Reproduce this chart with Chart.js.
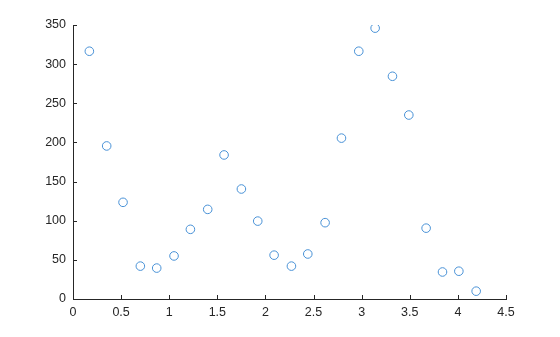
<!DOCTYPE html>
<html>
<head>
<meta charset="utf-8">
<script src="https://cdn.jsdelivr.net/npm/chart.js@4"></script>
<style>
html,body{margin:0;padding:0;background:#fff;}
#wrap{width:560px;height:337px;position:relative;}
</style>
</head>
<body>
<div id="wrap"><canvas id="c" width="560" height="337"></canvas></div>
<script>
const xValues = [0.17, 0.35, 0.52, 0.70, 0.87, 1.05, 1.22, 1.40, 1.57, 1.75, 1.92, 2.09,
                 2.27, 2.44, 2.62, 2.79, 2.97, 3.14, 3.32, 3.49, 3.67, 3.84, 4.01, 4.19];
const yValues = [316.5, 195.5, 123.5, 42, 39.5, 55, 89, 114.5, 184, 140.5, 99.5, 56,
                 42, 57.5, 97.5, 205.5, 316.5, 346, 284.5, 235, 90.5, 34.5, 35.5, 10];
const xTicks = [0, 0.5, 1, 1.5, 2, 2.5, 3, 3.5, 4, 4.5];
const yTicks = [0, 50, 100, 150, 200, 250, 300, 350];

const points = xValues.map((x, i) => ({x: x, y: yValues[i]}));
const AX = '#262626';
const FONT = {family: '"Liberation Sans", Arial, Helvetica, sans-serif', size: 12.5};

const innerTicks = {
  id: 'innerTicks',
  afterDatasetsDraw(chart) {
    const ctx = chart.ctx, a = chart.chartArea;
    const xs = chart.scales.x, ys = chart.scales.y;
    ctx.save();
    ctx.strokeStyle = AX;
    ctx.lineWidth = 1;
    ctx.beginPath();
    xTicks.forEach(v => {
      const p = Math.round(xs.getPixelForValue(v)) + 0.5;
      ctx.moveTo(p, a.bottom); ctx.lineTo(p, a.bottom - 4);
    });
    yTicks.forEach(v => {
      const p = Math.round(ys.getPixelForValue(v)) + 0.5;
      ctx.moveTo(a.left, p); ctx.lineTo(a.left + 4, p);
    });
    ctx.stroke();
    ctx.restore();
  }
};

new Chart(document.getElementById('c'), {
  type: 'scatter',
  data: {
    datasets: [{
      data: points,
      showLine: false,
      pointStyle: 'circle',
      pointRadius: 4.3,
      pointHoverRadius: 4.3,
      borderWidth: 1,
      pointBorderColor: '#4891d6',
      pointBackgroundColor: 'rgba(0,0,0,0)'
    }]
  },
  options: {
    responsive: false,
    animation: false,
    layout: {padding: {left: 0, right: 54, top: 25, bottom: 0}},
    plugins: {legend: {display: false}, tooltip: {enabled: false}},
    scales: {
      x: {
        type: 'linear', min: 0, max: 4.5,
        afterBuildTicks: s => { s.ticks = xTicks.map(v => ({value: v})); },
        afterFit: s => { s.height = 38; },
        ticks: {color: AX, font: FONT, padding: 6, maxRotation: 0,
                callback: v => String(v)},
        grid: {display: true, drawOnChartArea: false, drawTicks: false},
        border: {display: true, color: AX, width: 1}
      },
      y: {
        type: 'linear', min: 0, max: 350,
        afterBuildTicks: s => { s.ticks = yTicks.map(v => ({value: v})); },
        afterFit: s => { s.width = 73; },
        ticks: {color: AX, font: FONT, padding: 7, callback: v => String(v)},
        grid: {display: true, drawOnChartArea: false, drawTicks: false},
        border: {display: true, color: AX, width: 1}
      }
    }
  },
  plugins: [innerTicks]
});
</script>
</body>
</html>
